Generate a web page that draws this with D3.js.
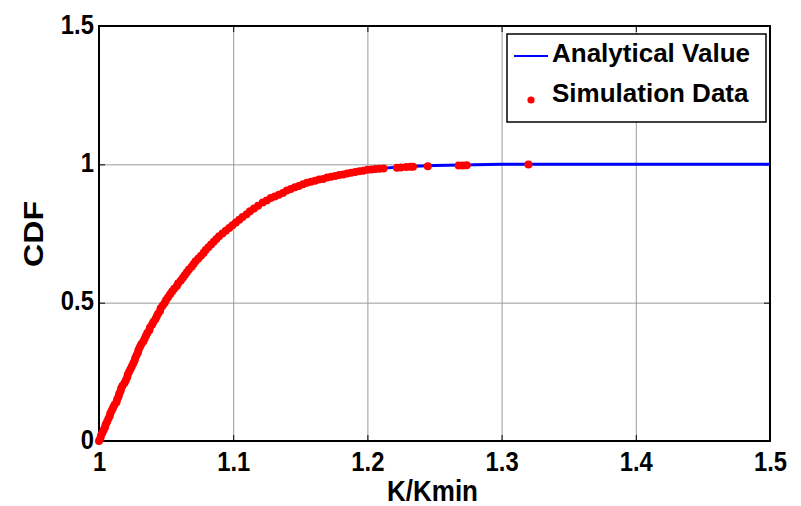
<!DOCTYPE html>
<meta charset="utf-8">
<style>
    body { margin: 0; background: #fff; }
    text {
        font-family: "Liberation Sans", Arial, sans-serif;
        font-weight: bold;
        fill: #000;
    }
    .grid .tick line {
        stroke: #9a9a9a;
        stroke-width: 1px;
    }
    .grid path { stroke-width: 0; }
    .axis path { stroke-width: 0; }
    .axis .tick line { stroke: #000; stroke-width: 1px; }
    .axis .tick text { font-size: 28px; }
</style>
<body>
<svg width="801" height="506"></svg>
</body>
<script src="https://cdn.jsdelivr.net/npm/d3@7"></script>
<script>

    // tick labels
    var xTicks = [1, 1.1, 1.2, 1.3, 1.4, 1.5];
    var yTicks = [0, 0.5, 1, 1.5];

    // analytical CDF curve
    var analyticK =   [1.00, 1.01, 1.02, 1.03, 1.04, 1.05, 1.06, 1.07, 1.08, 1.09, 1.10,
                       1.11, 1.12, 1.13, 1.14, 1.15, 1.16, 1.17, 1.18, 1.19, 1.20,
                       1.21, 1.22, 1.23, 1.24, 1.25, 1.26, 1.27, 1.28, 1.29, 1.30, 1.35, 1.50];
    var analyticCDF = [0, 0.115, 0.22, 0.33, 0.425, 0.505, 0.575, 0.635, 0.69, 0.74, 0.78,
                       0.82, 0.855, 0.88, 0.905, 0.925, 0.94, 0.952, 0.963, 0.972, 0.98,
                       0.985, 0.989, 0.992, 0.994, 0.996, 0.997, 0.998, 0.9985, 0.999, 1, 1, 1];

    // simulation points [K/Kmin, CDF]
    var simData = [
        [1.000, 0.00], [1.001, 0.01], [1.0015, 0.02], [1.0025, 0.03], [1.0035, 0.04], [1.0045, 0.05],
        [1.005, 0.06], [1.006, 0.07], [1.007, 0.08], [1.008, 0.09], [1.0085, 0.10], [1.0095, 0.11],
        [1.0105, 0.12], [1.0115, 0.13], [1.013, 0.14], [1.0135, 0.15], [1.0145, 0.16], [1.015, 0.17],
        [1.016, 0.18], [1.0165, 0.19], [1.0175, 0.20], [1.019, 0.21], [1.020, 0.22], [1.021, 0.23],
        [1.0215, 0.24], [1.0225, 0.25], [1.0235, 0.26], [1.0245, 0.27], [1.0255, 0.28], [1.0265, 0.29],
        [1.027, 0.30], [1.028, 0.31], [1.029, 0.32], [1.0295, 0.33], [1.0305, 0.34], [1.0315, 0.35],
        [1.033, 0.36], [1.034, 0.37], [1.035, 0.38], [1.036, 0.39], [1.0375, 0.40], [1.038, 0.41],
        [1.0395, 0.42], [1.0405, 0.43], [1.042, 0.44], [1.043, 0.45], [1.044, 0.46], [1.0455, 0.47],
        [1.046, 0.48], [1.0475, 0.49], [1.049, 0.50], [1.050, 0.51], [1.0515, 0.52], [1.053, 0.53],
        [1.0545, 0.54], [1.056, 0.55], [1.058, 0.56], [1.059, 0.57], [1.061, 0.58], [1.0625, 0.59],
        [1.064, 0.60], [1.0655, 0.61], [1.067, 0.62], [1.069, 0.63], [1.0705, 0.64], [1.072, 0.65],
        [1.074, 0.66], [1.076, 0.67], [1.078, 0.68], [1.0795, 0.69], [1.0815, 0.70], [1.0835, 0.71],
        [1.0855, 0.72], [1.0875, 0.73], [1.0895, 0.74], [1.092, 0.75], [1.0945, 0.76], [1.097, 0.77],
        [1.0995, 0.78], [1.102, 0.79], [1.1045, 0.80], [1.107, 0.81], [1.110, 0.82], [1.1125, 0.83],
        [1.1155, 0.84], [1.1185, 0.85], [1.122, 0.862], [1.125, 0.869], [1.128, 0.878], [1.131, 0.884],
        [1.134, 0.890], [1.137, 0.896], [1.140, 0.905], [1.143, 0.911], [1.146, 0.917], [1.149, 0.922],
        [1.152, 0.928], [1.155, 0.933], [1.158, 0.937], [1.161, 0.941], [1.164, 0.945], [1.167, 0.947],
        [1.170, 0.952], [1.173, 0.955], [1.176, 0.958], [1.179, 0.961], [1.182, 0.963], [1.185, 0.967],
        [1.188, 0.970], [1.191, 0.972], [1.194, 0.975], [1.197, 0.977], [1.200, 0.980], [1.203, 0.981],
        [1.206, 0.983], [1.209, 0.984], [1.212, 0.985], [1.222, 0.988], [1.225, 0.989], [1.229, 0.990],
        [1.232, 0.991], [1.234, 0.991], [1.245, 0.993], [1.268, 0.996], [1.271, 0.996], [1.274, 0.997],
        [1.320, 0.999]
    ];

    var legendNames = ["Analytical Value", "Simulation Data"];

    var svg = d3.select("svg");
    var margin = {left: 99, right: 31, top: 26, bottom: 65};
    var x0 = margin.left, x1 = 801 - margin.right,
        y0 = 506 - margin.bottom, y1 = margin.top;

    var x = d3.scaleLinear().domain([1, 1.5]).range([x0, x1]);
    var y = d3.scaleLinear().domain([0, 1.5]).range([y0, y1]);

    // grid lines
    svg.append("g")
            .attr("class", "grid")
            .attr("transform", "translate(0," + y0 + ")")
            .call(d3.axisBottom(x).tickValues(xTicks).tickSize(-(y0 - y1)).tickFormat(""));
    svg.append("g")
            .attr("class", "grid")
            .attr("transform", "translate(" + x0 + ",0)")
            .call(d3.axisLeft(y).tickValues(yTicks).tickSize(-(x1 - x0)).tickFormat(""));

    // axes, ticks pointing inside like matlab
    var xAxis = svg.append("g")
            .attr("class", "axis")
            .attr("transform", "translate(0," + y0 + ")")
            .call(d3.axisBottom(x).tickValues(xTicks).tickSizeInner(-6).tickSizeOuter(0)
                    .tickPadding(10).tickFormat(d3.format("")));
    xAxis.selectAll("text").attr("transform", "scale(0.85,1)");

    var yAxis = svg.append("g")
            .attr("class", "axis")
            .attr("transform", "translate(" + x0 + ",0)")
            .call(d3.axisLeft(y).tickValues(yTicks).tickSizeInner(-6).tickSizeOuter(0)
                    .tickPadding(6).tickFormat(d3.format("")));
    yAxis.selectAll("text").attr("dy", "0.25em").attr("transform", "scale(0.85,1)");

    svg.append("g")
            .attr("class", "axis")
            .attr("transform", "translate(0," + y1 + ")")
            .call(d3.axisTop(x).tickValues(xTicks).tickSizeInner(-6).tickSizeOuter(0).tickFormat(""));
    svg.append("g")
            .attr("class", "axis")
            .attr("transform", "translate(" + x1 + ",0)")
            .call(d3.axisRight(y).tickValues(yTicks).tickSizeInner(-6).tickSizeOuter(0).tickFormat(""));

    // box
    svg.append("rect")
            .attr("x", x0).attr("y", y1)
            .attr("width", x1 - x0).attr("height", y0 - y1)
            .attr("fill", "none")
            .attr("stroke", "#000")
            .attr("stroke-width", 2);

    // axis labels
    svg.append("text")
            .attr("x", (x0 + x1) / 2 - 2)
            .attr("y", 501)
            .attr("text-anchor", "middle")
            .style("font-size", "30px")
            .attr("textLength", 91)
            .attr("lengthAdjust", "spacingAndGlyphs")
            .text("K/Kmin");

    svg.append("text")
            .attr("transform", "translate(42.5,234) rotate(-90)")
            .attr("text-anchor", "middle")
            .style("font-size", "28px")
            .attr("textLength", 66)
            .attr("lengthAdjust", "spacingAndGlyphs")
            .text("CDF");

    // analytical line
    var line = d3.line()
            .x(function (d, i) { return x(analyticK[i]); })
            .y(function (d) { return y(d); });

    svg.append("path")
            .datum(analyticCDF)
            .attr("fill", "none")
            .attr("stroke", "#0000ff")
            .attr("stroke-width", 3)
            .attr("d", line);

    // simulation dots
    svg.append("g")
            .selectAll("circle")
            .data(simData)
            .enter().append("circle")
            .attr("cx", function (d) { return x(d[0]); })
            .attr("cy", function (d) { return y(d[1]); })
            .attr("r", 4)
            .attr("fill", "#ff0000");

    // legend
    var legend = svg.append("g").attr("transform", "translate(507,34)");
    legend.append("rect")
            .attr("width", 259).attr("height", 88)
            .attr("fill", "#fff")
            .attr("stroke", "#000")
            .attr("stroke-width", 1.5);
    legend.append("line")
            .attr("x1", 7).attr("x2", 41)
            .attr("y1", 22).attr("y2", 22)
            .attr("stroke", "#0000ff")
            .attr("stroke-width", 2);
    legend.append("circle")
            .attr("cx", 24).attr("cy", 66)
            .attr("r", 3.6)
            .attr("fill", "#ff0000");
    legend.selectAll(".legText")
            .data(legendNames)
            .enter().append("text")
            .attr("class", "legText")
            .attr("x", 45)
            .attr("y", function (d, i) { return 28 + i * 40; })
            .style("font-size", "26px")
            .text(function (d) { return d; });

</script>
